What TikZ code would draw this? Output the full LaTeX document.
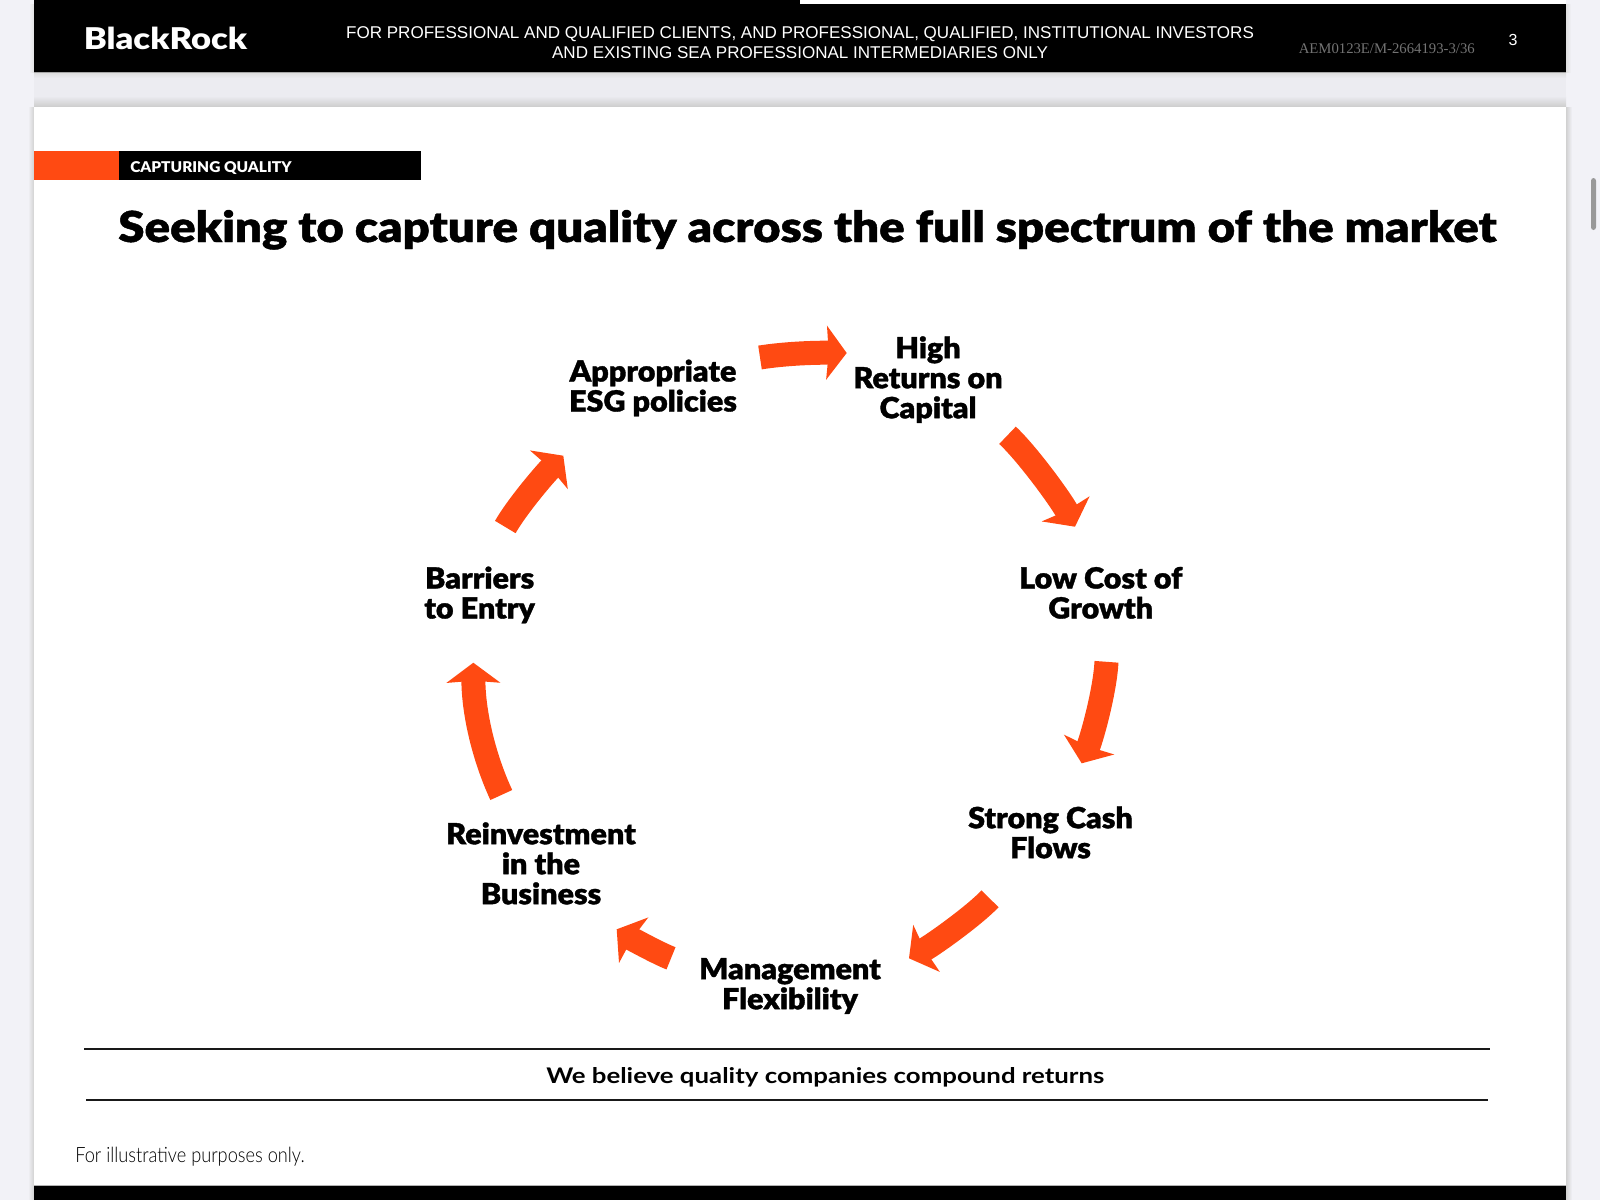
\documentclass[tikz,border=0pt]{standalone}
\usepackage{fontspec}
\usepackage{graphicx}
\usetikzlibrary{arrows.meta}
\setmainfont{Liberation Sans}
\newfontfamily\blk{Lato Black}[FakeBold=1.2,FakeStretch=1.05]
\newfontfamily\blkt{Lato Black}[FakeBold=1.0]
\newfontfamily\latob{Lato Black}
\newfontfamily\latos{Lato}[BoldFont=* Bold]
\newfontfamily\serf{Liberation Serif}
\newfontfamily\thin{Lato Light}
\definecolor{orng}{HTML}{FF4A12}
\definecolor{pagebg}{HTML}{F2F2F7}
\definecolor{gapbg}{HTML}{ECECF1}
\tikzset{
  lbl/.style={anchor=base,align=center,inner sep=0pt,text=black,font=\blk\fontsize{21.8}{22.5}\selectfont},
  flow/.style={draw=orng,line width=18pt,-{Stealth[length=15pt,width=40pt,inset=1.5pt,fill=orng]},line cap=butt},
  txt/.style={inner sep=0pt,anchor=base}
}
\begin{document}
\begin{tikzpicture}[x=0.75pt,y=-0.75pt]
\useasboundingbox (0,0) rectangle (1600,1200);
% page
\fill[pagebg] (0,0) rectangle (1600,1200);
\fill[gapbg] (34,72) rectangle (1566,107);
% shadows
\shade[top color=black!14,bottom color=gapbg] (34,72) rectangle (1566,78);
\shade[top color=gapbg,bottom color=black!20] (34,96) rectangle (1566,107);
\shade[left color=pagebg,right color=black!18] (28,107) rectangle (34,1200);
\shade[left color=black!18,right color=pagebg] (1566,107) rectangle (1572,1200);
\shade[left color=pagebg,right color=black!12] (29,4) rectangle (34,72);
\shade[left color=black!12,right color=pagebg] (1566,4) rectangle (1571,72);
% top strip and header
\fill[black] (34,0) rectangle (800,4);
\fill[white] (800,0) rectangle (1566,4);
\fill[black] (34,4) rectangle (1566,72);
\fill[black!35] (34,72) rectangle (1566,73);
% card
\fill[white] (34,107) rectangle (1566,1186);
\fill[black] (34,1186) rectangle (1566,1200);
\fill[black!30] (34,1185.3) rectangle (1566,1186);
% scrollbar
\fill[black!40,rounded corners=2pt] (1591,178) rectangle (1596,230);
% header texts
\node[txt,anchor=base west,text=white] (logo) at (83.5,49) {\resizebox{122.5pt}{16.8pt}{\latob BlackRock}{\fontsize{4}{4}\selectfont\textcolor{black!50}{.}}};
\node[txt,anchor=base,text=white,align=center,font=\fontsize{12.78}{15}\selectfont] (legal) at (800,58) {FOR PROFESSIONAL AND QUALIFIED CLIENTS, AND PROFESSIONAL, QUALIFIED, INSTITUTIONAL INVESTORS\\AND EXISTING SEA PROFESSIONAL INTERMEDIARIES ONLY};
\node[txt,anchor=base west,text=black!55] (code) at (1298.5,53) {\resizebox{132pt}{!}{\serf AEM0123E/M-2664193-3/36}};
\node[txt,text=white,font=\fontsize{12}{14}\selectfont] (pg) at (1513,45) {3};
% tag
\fill[orng] (34,151) rectangle (118.5,180);
\fill[black] (118.5,151) rectangle (421,180);
\node[txt,anchor=base west,text=white] (tag) at (130,172) {\resizebox{121pt}{8.2pt}{\latob CAPTURING QUALITY}};
% title
\node[txt,anchor=base west] (title) at (118,242) {\resizebox{1033.5pt}{24pt}{\blkt Seeking to capture quality across the full spectrum of the market}};
% labels
\node[lbl] (esg) at (653,411.5) {Appropriate\\ESG policies};
\node[lbl] (high) at (928,418.2) {High\\Returns on\\Capital};
\node[lbl] (low) at (1100.7,618.5) {Low Cost of\\Growth};
\node[lbl] (cash) at (1050.5,858.2) {Strong Cash\\Flows};
\node[lbl] (mgmt) at (790,1009.2) {Management\\Flexibility};
\node[lbl] (reinv) at (541,904.2) {Reinvestment\\in the\\Business};
\node[lbl] (barr) at (479.6,618.5) {Barriers\\to Entry};
% connectors
\draw[flow] ([shift={(107,-54)}]esg.base) .. controls (785,353.5) and (815,352.5) .. ([shift={(-81.3,-65.2)}]high.base);
\draw[flow] ([shift={(79.5,17.1)}]high.base) .. controls (1027.5,454) and (1061,500) .. ([shift={(-25.7,-91.8)}]low.base);
\draw[flow] ([shift={(5.8,43.3)}]low.base) .. controls (1105,690) and (1092.7,735.4) .. ([shift={(31.2,-94.9)}]cash.base);
\draw[flow] ([shift={(-60.5,40.6)}]cash.base) .. controls (975,914.8) and (935,943.6) .. ([shift={(119,-50.9)}]mgmt.base);
\draw[flow] ([shift={(-119,-50.9)}]mgmt.base) .. controls (658,953.3) and (629.3,937.4) .. ([shift={(75.7,25.1)}]reinv.base);
\draw[flow] ([shift={(-39.7,-109.2)}]reinv.base) .. controls (485,760) and (473.5,715) .. ([shift={(-6.3,44.2)}]barr.base);
\draw[flow] ([shift={(25.7,-91.5)}]barr.base) .. controls (517.3,506) and (545.4,473.2) .. ([shift={(-89.7,44.2)}]esg.base);
% bottom rules and notes
\draw[black!90,line width=1.5pt] (84,1049) -- (1490,1049);
\draw[black!90,line width=1.5pt] (86,1100) -- (1488,1100);
\node[txt,anchor=base west] (claim) at (546,1083.5) {\resizebox{418.5pt}{12pt}{\latos\bfseries We believe quality companies compound returns}};
\node[txt,anchor=base west] (note) at (75,1162) {\resizebox{172pt}{11.5pt}{\thin For illustrative purposes only.}};
\end{tikzpicture}
\end{document}
